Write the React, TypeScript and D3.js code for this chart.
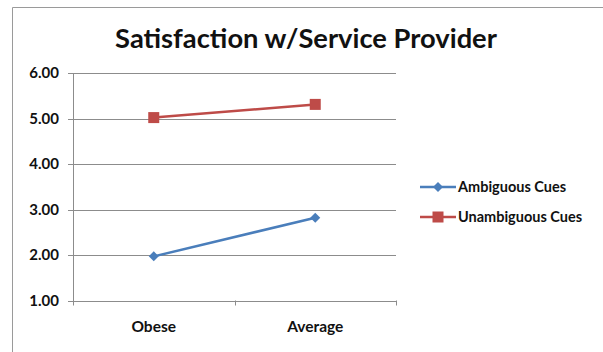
import React from "react";
import * as d3 from "d3";

const categories = ["Obese", "Average"];
const ambiguous = [1.97, 2.82];
const unambiguous = [5.02, 5.31];
const yTicks = [1, 2, 3, 4, 5, 6];
const seriesNames = ["Ambiguous Cues", "Unambiguous Cues"];

const W = 603, H = 352;
const left = 73, right = 396, top = 73, bottom = 300.5;
const FONT = "Lato, 'Open Sans', sans-serif";
const BLUE = "#4A7EBB";
const RED = "#BE4B48";
const GRID = "#8c8c8c";

export default function App() {
  const x = d3.scaleBand().domain(categories).range([left, right]);
  const y = d3.scaleLinear().domain([1, 6]).range([bottom, top]);
  const line = d3
    .line<number>()
    .x((_, i) => (x(categories[i]) as number) + x.bandwidth() / 2)
    .y((d) => y(d));
  const px = (i: number) => (x(categories[i]) as number) + x.bandwidth() / 2;
  const diamond = d3.symbol(d3.symbolSquare, 50)();
  const boundaries = [...categories.map((c) => x(c) as number), right];

  return (
    <svg width={W} height={H} style={{ position: "absolute", left: 0, top: 0, background: "#fff" }}>
      <rect x={0} y={0} width={W} height={H} fill="#fff" />
      <path d={`M12.5,${H} V7.5 H${W}`} fill="none" stroke="#9a9a9a" strokeWidth={1} />
      <text x={306} y={48} textAnchor="middle" fontFamily={FONT} fontWeight="bold" fontSize={27.3} fill="#111">
        Satisfaction w/Service Provider
      </text>
      {yTicks.map((t) => (
        <g key={t}>
          <line x1={left - 5} x2={right} y1={Math.round(y(t)) + 0.5} y2={Math.round(y(t)) + 0.5} stroke={GRID} strokeWidth={1} />
          <text x={59} y={y(t) + 5} textAnchor="end" fontFamily={FONT} fontWeight="bold" fontSize={15} fill="#111">
            {t.toFixed(2)}
          </text>
        </g>
      ))}
      <line x1={left + 0.5} x2={left + 0.5} y1={top} y2={bottom + 4} stroke={GRID} strokeWidth={1} />
      {boundaries.map((b, i) => (
        <line key={i} x1={Math.round(b) + 0.5} x2={Math.round(b) + 0.5} y1={bottom} y2={bottom + 5} stroke={GRID} strokeWidth={1} />
      ))}
      {categories.map((c, i) => (
        <text key={c} x={px(i)} y={332} textAnchor="middle" fontFamily={FONT} fontWeight="bold" fontSize={15.5} fill="#111">
          {c}
        </text>
      ))}
      <path d={line(ambiguous) as string} fill="none" stroke={BLUE} strokeWidth={2.5} />
      <path d={line(unambiguous) as string} fill="none" stroke={RED} strokeWidth={2.5} />
      {ambiguous.map((v, i) => (
        <path key={i} d={diamond as string} transform={`translate(${px(i)},${y(v)}) rotate(45)`} fill={BLUE} />
      ))}
      {unambiguous.map((v, i) => (
        <rect key={i} x={px(i) - 5.5} y={y(v) - 5.5} width={11} height={11} fill={RED} />
      ))}
      {seriesNames.map((n, i) => {
        const ly = 187 + i * 30;
        const color = i === 0 ? BLUE : RED;
        return (
          <g key={n}>
            <line x1={420} x2={456} y1={ly} y2={ly} stroke={color} strokeWidth={2.5} />
            {i === 0 ? (
              <path d={diamond as string} transform={`translate(438,${ly}) rotate(45)`} fill={color} />
            ) : (
              <rect x={432.5} y={ly - 5.5} width={11} height={11} fill={color} />
            )}
            <text x={458} y={ly + 5} fontFamily={FONT} fontWeight="bold" fontSize={14.5} fill="#111">
              {n}
            </text>
          </g>
        );
      })}
    </svg>
  );
}
